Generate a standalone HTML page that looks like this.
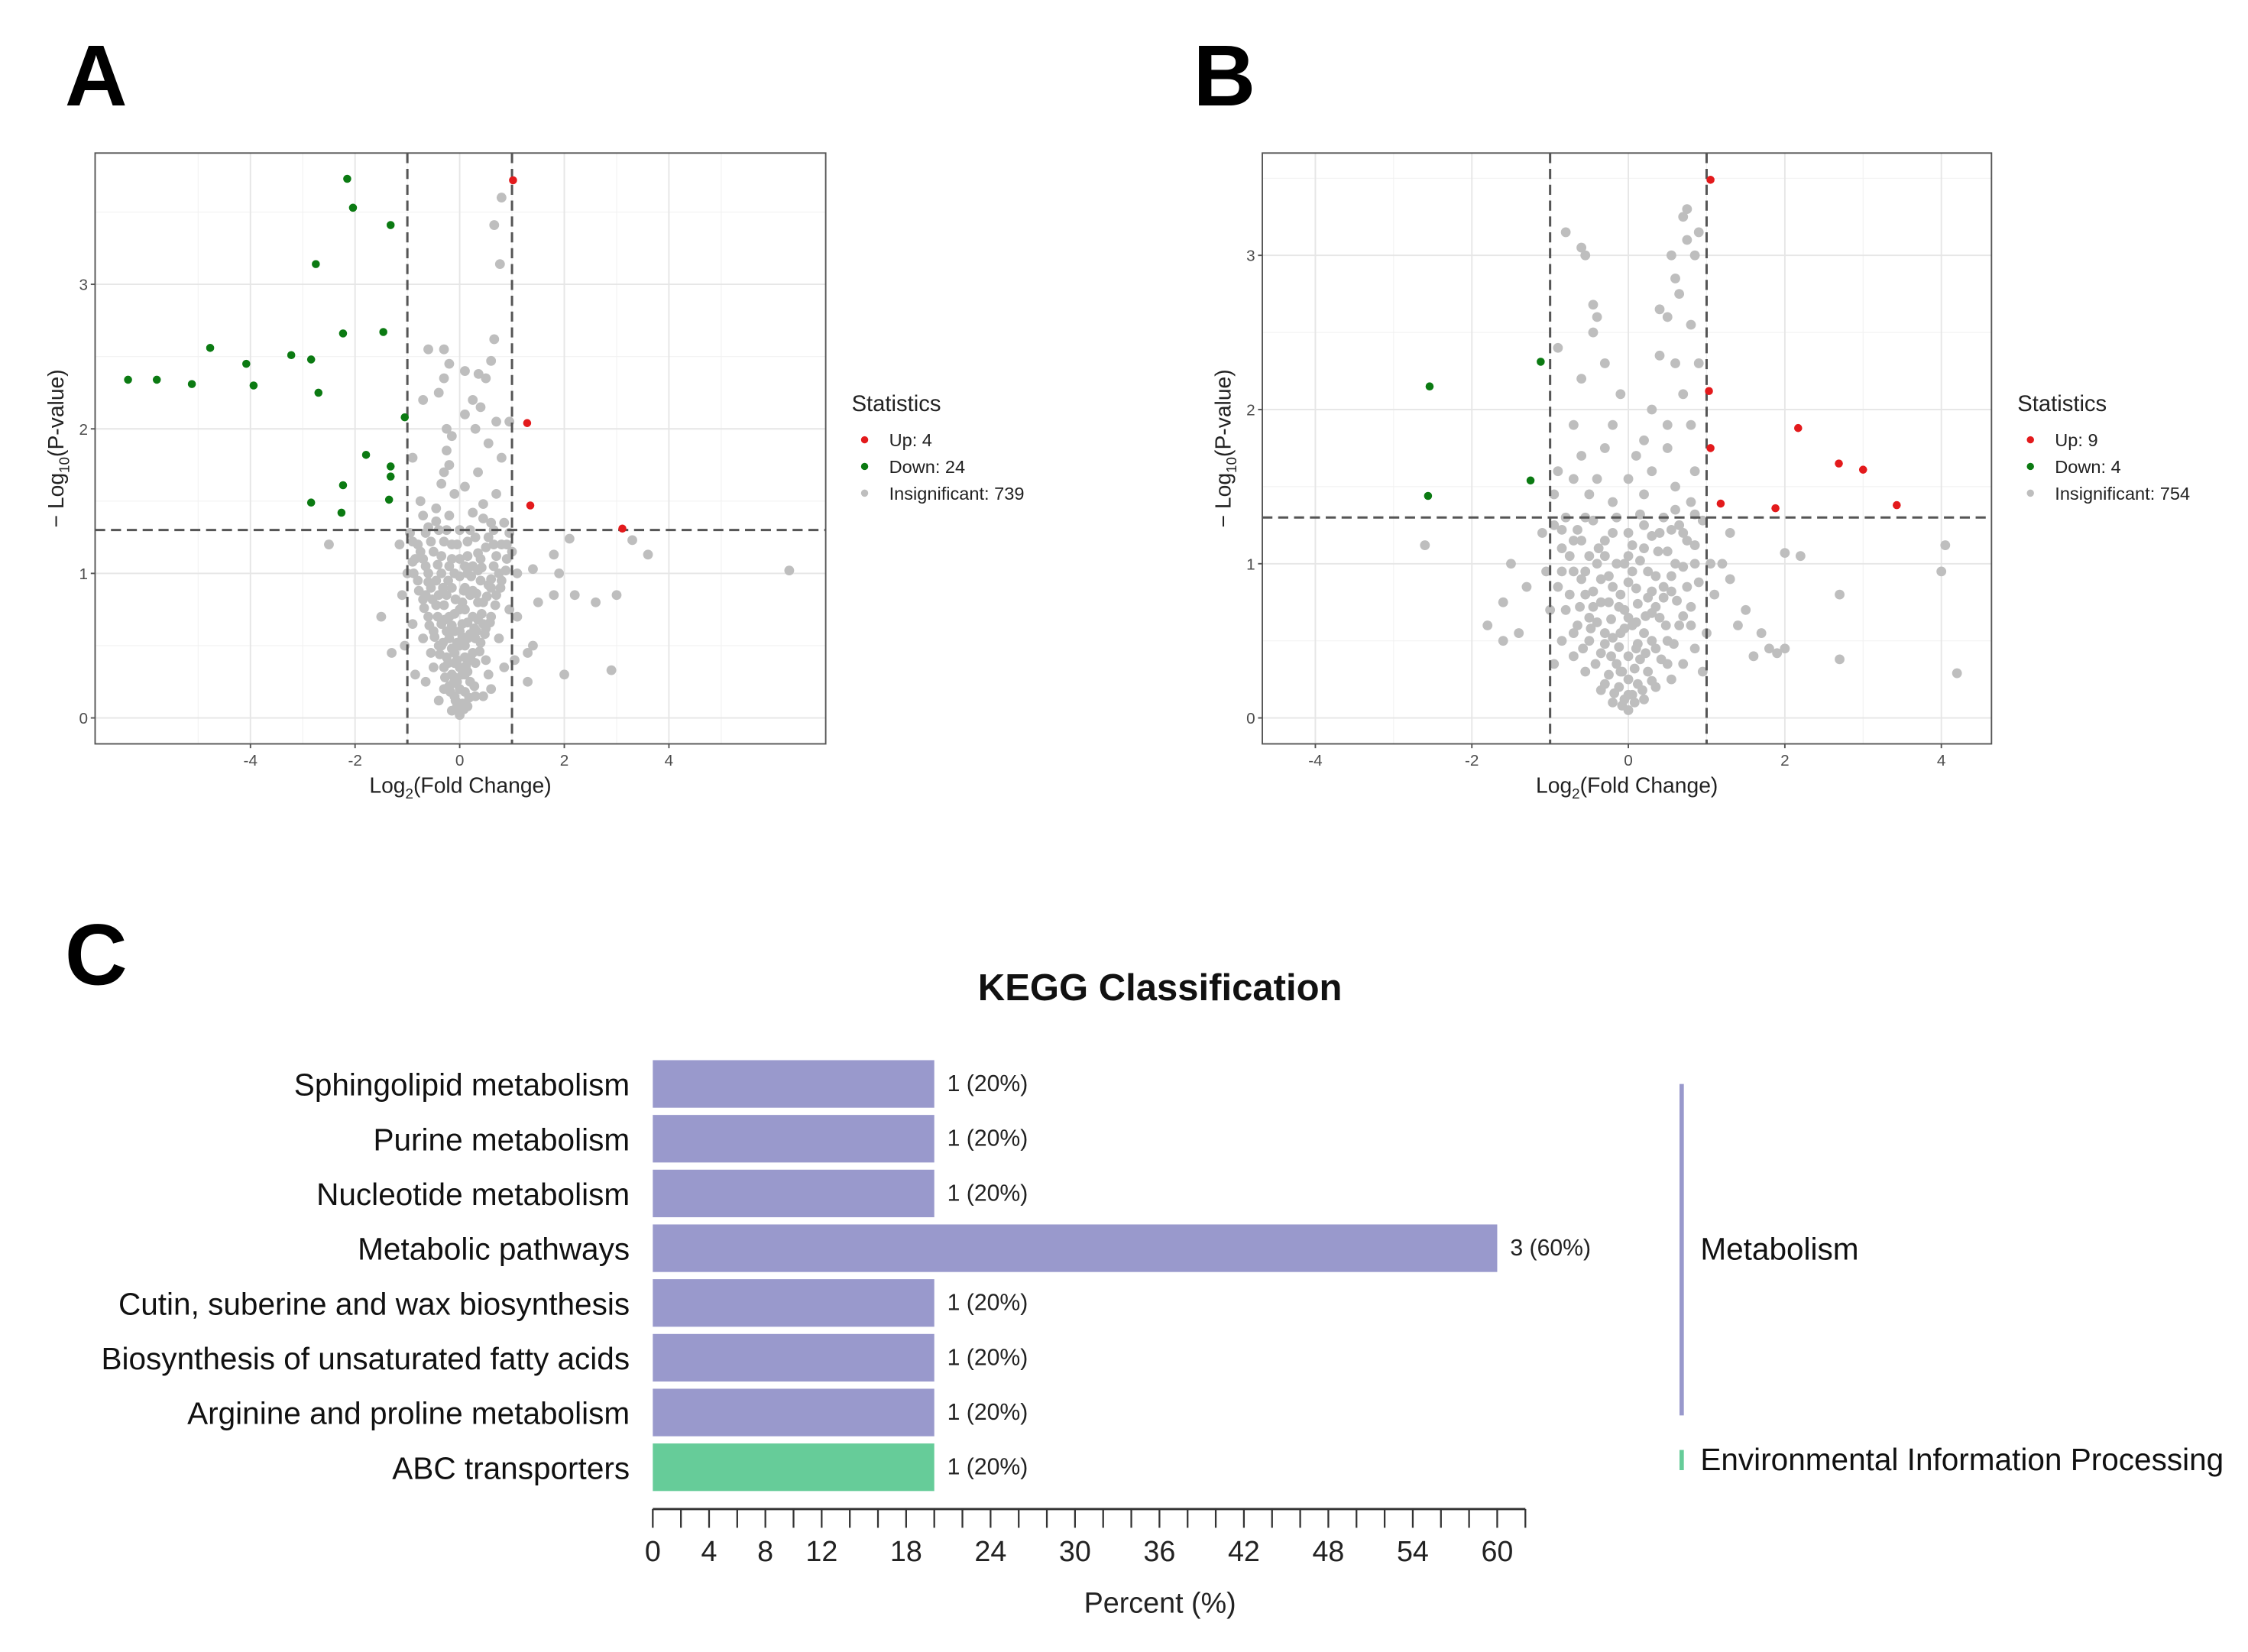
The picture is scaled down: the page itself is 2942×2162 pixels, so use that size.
<!DOCTYPE html>
<html><head><meta charset="utf-8"><style>
html,body{margin:0;padding:0;background:#fff}
svg{display:block;font-family:"Liberation Sans",sans-serif}
</style></head><body>
<svg id="fig" width="2942" height="2162" viewBox="0 0 1560 1146" xmlns="http://www.w3.org/2000/svg">
<rect width="1560" height="1146" fill="#fff"/>
<text x="45" y="73" font-size="60" font-weight="bold">A</text>
<text x="828" y="73" font-size="60" font-weight="bold">B</text>
<text x="45" y="683" font-size="60" font-weight="bold">C</text>
<g id="pa"></g>
<g id="pb"></g>
<g id="pc"></g>
</svg>
<script>
// ---- Panel A data ----
const aUpX=[1.02,1.29,1.35,3.11];
const aUpY=[3.72,2.04,1.47,1.31];
const aDownX=[-2.15,-2.04,-1.32,-2.75,-2.23,-1.46,-4.77,-3.22,-4.08,-2.84,-6.34,-5.79,-5.12,-3.94,-2.70,-1.05,-1.79,-1.32,-1.32,-2.23,-2.84,-1.35,-2.26];
const aDownY=[3.73,3.53,3.41,3.14,2.66,2.67,2.56,2.51,2.45,2.48,2.34,2.34,2.31,2.30,2.25,2.08,1.82,1.74,1.67,1.61,1.49,1.51,1.42];
const aGray=[0.66,3.41,0.8,3.6,0.77,3.14,0.66,2.62,0.36,2.38,6.3,1.02,-2.5,1.2,3.3,1.23,3.6,1.13,1.8,1.13,1.9,1.0,1.4,1.03,2.2,0.85,2.6,0.8,3.0,0.85,1.8,0.85,1.5,0.8,2.0,0.3,2.9,0.33,-1.3,0.45,-1.5,0.7,1.3,0.45,1.4,0.5,1.3,0.25,2.1,1.24,
0,0.02,-0.05,0.08,0.05,0.1,-0.1,0.15,0.1,0.18,0,0.2,-0.2,0.22,0.2,0.25,-0.15,0.3,0.15,0.32,0,0.35,-0.3,0.35,0.3,0.38,-0.25,0.42,0.25,0.45,-0.1,0.45,0.1,0.5,-0.4,0.5,0.4,0.52,-0.2,0.55,0.2,0.58,0,0.6,-0.5,0.6,0.5,0.62,-0.35,0.65,0.35,0.68,-0.6,0.7,0.6,0.7,-0.1,0.72,0.1,0.75,-0.45,0.78,0.45,0.8,-0.7,0.82,0.7,0.85,-0.25,0.85,0.25,0.88,-0.55,0.9,0.55,0.92,-0.8,0.95,0.8,0.95,0,0.98,-0.35,1.0,0.35,1.02,-0.65,1.05,0.65,1.05,-0.9,1.08,0.9,1.1,-0.15,1.1,0.15,1.12,-0.5,1.15,0.5,1.18,-0.8,1.2,0.8,1.2,-0.3,1.22,0.3,1.25,-0.95,1.28,0.95,1.28,0,1.3,-0.6,1.32,0.6,1.35,-0.2,1.4,0.25,1.42,-0.45,1.45,0.45,1.48,-0.75,1.5,0.7,1.55,-0.1,1.55,0.1,1.6,-0.35,1.62,-0.3,1.7,0.35,1.7,-0.2,1.75,0.8,1.8,-0.9,1.8,-0.25,1.85,0.55,1.9,-0.15,1.95,0.95,2.05,0.7,2.05,0.1,2.1,-0.25,2.0,0.4,2.15,-0.4,2.25,0.25,2.2,-0.3,2.35,0.5,2.35,-0.2,2.45,0.6,2.47,-0.6,2.55,-0.3,2.55,0.1,2.4,-0.7,2.2,0.3,2.0,1.1,1.0,-1.1,0.85,-1.15,1.2,1.1,0.7,-1.05,0.5,1.05,0.4,-0.85,0.3,0.85,0.35,-0.65,0.25,0.6,0.2,-0.4,0.12,0.45,0.15,-0.7,0.55,0.75,0.55,-0.9,0.65,0.95,0.75,
-0.05,0.4,0.05,0.65,-0.15,0.9,0.15,1.0,-0.05,1.2,0.05,0.8,-0.25,0.6,0.25,0.7,-0.4,0.85,0.4,0.95,-0.6,1.0,0.6,0.9,-0.75,1.15,0.75,1.0,-0.5,0.35,0.5,0.4,-0.3,0.2,0.3,0.15,-0.15,0.05,0.15,0.08,-0.55,0.45,0.55,0.3,-0.85,1.1,0.85,1.35,-0.7,1.4,0.2,1.3,-0.4,1.3,0.4,1.1,-1,1.0,1.0,1.15,-0.2,1.05,0.1,0.3,-0.1,0.28,0,0.5,0,0.75,0,1.1,-0.3,0.78,0.3,0.55,-0.2,0.7,0.2,0.85,-0.1,0.6,0.1,0.9,-0.35,0.5,0.35,0.8,-0.05,0.25,0.05,0.3,-0.45,0.95,0.45,0.65,-0.65,0.85,0.65,1.2,-0.25,1.3,0.25,1.05,-0.1,0.38,0.1,0.42,
-0.08,0.12,0.08,0.06,-0.18,0.18,0.18,0.14,-0.28,0.28,0.28,0.22,-0.12,0.24,0.12,0.36,-0.22,0.38,0.22,0.4,-0.38,0.44,0.38,0.46,-0.32,0.52,0.32,0.6,-0.48,0.56,0.48,0.58,-0.15,0.48,0.15,0.55,-0.05,0.52,0.05,0.56,-0.58,0.64,0.58,0.66,-0.42,0.7,0.42,0.72,-0.28,0.68,0.28,0.62,-0.15,0.64,0.15,0.66,-0.68,0.76,0.68,0.78,-0.52,0.82,0.52,0.84,-0.32,0.9,0.32,0.86,-0.08,0.82,0.08,0.88,-0.78,0.88,0.78,0.9,-0.6,0.94,0.6,0.96,-0.42,1.06,0.42,1.04,-0.22,0.95,0.22,0.98,-0.88,1.0,0.88,1.02,-0.7,1.1,0.7,1.12,-0.55,1.22,0.55,1.25,-0.1,1.0,0.1,1.05,-0.35,1.12,0.35,1.14,-0.9,1.22,0.9,1.2,-0.65,1.28,0.65,1.3,-0.45,1.36,0.45,1.38,-0.15,1.2,0.15,1.22];
// ---- Panel B data ----
const bUpX=[1.05,1.03,1.05,1.18,2.17,1.88,2.69,3.0,3.43];
const bUpY=[3.49,2.12,1.75,1.39,1.88,1.36,1.65,1.61,1.38];
const bDownX=[-2.54,-1.12,-1.25,-2.56];
const bDownY=[2.15,2.31,1.54,1.44];
const bGray=[-2.6,1.12,-1.8,0.6,-1.6,0.75,-1.5,1.0,-1.4,0.55,-1.3,0.85,-1.6,0.5,1.4,0.6,1.6,0.4,1.8,0.45,2.0,0.45,1.3,0.9,1.5,0.7,2.0,1.07,2.2,1.05,2.7,0.8,2.7,0.38,4.0,0.95,4.05,1.12,4.2,0.29,1.2,1.0,1.3,1.2,1.7,0.55,1.9,0.42,
-0.8,3.15,-0.6,3.05,-0.55,3.0,-0.45,2.68,-0.4,2.6,-0.45,2.5,-0.9,2.4,-0.3,2.3,0.4,2.65,0.5,2.6,0.55,3.0,0.7,3.25,0.75,3.1,0.85,3.0,0.6,2.85,0.65,2.75,0.8,2.55,0.9,2.3,0.6,2.3,0.4,2.35,0.7,2.1,0.5,1.9,0.8,1.9,0.3,2.0,-0.2,1.9,-0.6,2.2,-0.7,1.9,0.9,3.15,0.75,3.3,0.2,1.8,-0.1,2.1,
-0.9,1.6,-0.6,1.7,-0.3,1.75,0.1,1.7,0.5,1.75,0.85,1.6,-0.7,1.55,-0.4,1.55,0,1.55,0.3,1.6,0.6,1.5,-0.95,1.45,-0.5,1.45,0.2,1.45,0.8,1.4,-0.2,1.4,
0,0.05,-0.05,0.12,0.05,0.15,-0.12,0.2,0.12,0.22,0,0.25,-0.25,0.28,0.25,0.3,-0.15,0.35,0.15,0.38,0,0.4,-0.35,0.42,0.35,0.45,-0.5,0.5,0.5,0.5,-0.2,0.52,0.2,0.55,-0.65,0.6,0.65,0.6,-0.4,0.62,0.4,0.65,0,0.65,-0.8,0.7,0.8,0.72,-0.25,0.75,0.25,0.78,-0.55,0.8,0.55,0.82,-0.9,0.85,0.9,0.88,0,0.88,-0.35,0.9,0.35,0.92,-0.7,0.95,0.7,0.98,-0.15,1.0,0.15,1.02,-0.5,1.05,0.5,1.08,-0.85,1.1,0.85,1.12,-0.3,1.15,0.3,1.18,0,1.2,-0.65,1.22,0.65,1.25,-0.95,1.25,0.95,1.28,-0.45,1.28,0.45,1.3,-0.15,1.3,0.15,1.32,
-0.1,0.3,0.1,0.45,-0.3,0.55,0.3,0.68,-0.45,0.72,0.45,0.85,-0.6,0.9,0.6,1.0,-0.75,1.05,0.75,1.15,-0.05,0.7,0.05,0.95,-0.2,0.85,0.2,1.1,-0.4,1.0,0.4,1.2,-0.6,1.15,0.6,1.35,-0.8,1.3,0.8,0.6,-0.85,0.5,0.85,0.45,-0.7,0.4,0.7,0.35,-0.55,0.3,0.55,0.25,-0.35,0.18,0.35,0.2,-0.2,0.1,0.2,0.12,-1.05,0.95,1.05,1.0,-1.0,0.7,1.0,0.55,-1.1,1.2,1.1,0.8,-0.95,0.35,0.95,0.3,-0.1,0.55,0.1,0.62,-0.3,1.05,0.3,0.82,-0.5,0.65,0.5,0.35,0,1.05,0,0.15,
-0.08,0.08,0.08,0.1,-0.18,0.16,0.18,0.18,-0.3,0.22,0.3,0.24,-0.08,0.3,0.08,0.32,-0.22,0.4,0.22,0.42,-0.42,0.35,0.42,0.38,-0.12,0.46,0.12,0.48,-0.3,0.48,0.3,0.5,-0.58,0.45,0.58,0.48,-0.05,0.58,0.05,0.6,-0.22,0.64,0.22,0.66,-0.48,0.58,0.48,0.6,-0.7,0.55,0.7,0.66,-0.12,0.72,0.12,0.74,-0.35,0.75,0.35,0.72,-0.62,0.72,0.62,0.76,-0.1,0.8,0.1,0.84,-0.45,0.82,0.45,0.78,-0.75,0.8,0.75,0.85,-0.25,0.92,0.25,0.95,-0.55,0.95,0.55,0.92,-0.85,0.95,0.85,1.0,-0.05,1.0,0.05,1.12,-0.38,1.1,0.38,1.08,-0.7,1.15,0.7,1.2,-0.2,1.2,0.2,1.25,-0.55,1.3,0.55,1.22,-0.85,1.22,0.85,1.32];
// ---- Panel C data ----
const cCats=["Sphingolipid metabolism","Purine metabolism","Nucleotide metabolism","Metabolic pathways","Cutin, suberine and wax biosynthesis","Biosynthesis of unsaturated fatty acids","Arginine and proline metabolism","ABC transporters"];
const cPct=[20,20,20,60,20,20,20,20];
const cCount=[1,1,1,3,1,1,1,1];
const cGroup=["Metabolism","Metabolism","Metabolism","Metabolism","Metabolism","Metabolism","Metabolism","Environmental Information Processing"];
const cGroups=["Metabolism","Environmental Information Processing"];
const cTickLabels=[0,4,8,12,18,24,30,36,42,48,54,60];

const NS="http://www.w3.org/2000/svg";
function mk(parent,tag,attrs,text){const e=document.createElementNS(NS,tag);for(const k in attrs)e.setAttribute(k,attrs[k]);if(text!==undefined)e.textContent=text;parent.appendChild(e);return e;}

function volcano(g,cfg){
  const X=v=>cfg.x0+v*cfg.kx, Y=v=>cfg.y0-v*cfg.ky;
  for(const t of cfg.yMinor){mk(g,'line',{x1:cfg.L,x2:cfg.R,y1:Y(t),y2:Y(t),stroke:'#f2f2f2','stroke-width':0.6});}
  for(const t of cfg.xMinor){mk(g,'line',{x1:X(t),x2:X(t),y1:cfg.T,y2:cfg.B,stroke:'#f2f2f2','stroke-width':0.6});}
  for(const t of cfg.yt){mk(g,'line',{x1:cfg.L,x2:cfg.R,y1:Y(t),y2:Y(t),stroke:'#e6e6e6','stroke-width':1});}
  for(const t of cfg.xt){mk(g,'line',{x1:X(t),x2:X(t),y1:cfg.T,y2:cfg.B,stroke:'#e6e6e6','stroke-width':1});}
  for(let i=0;i<cfg.gray.length;i+=2){
    const c=mk(g,'circle',{cx:X(cfg.gray[i]),cy:Y(cfg.gray[i+1]),r:3.4,fill:'#bebebe'});
    
    
  }
  for(const v of [-1,1]){const l=mk(g,'line',{x1:X(v),x2:X(v),y1:cfg.T,y2:cfg.B,stroke:'#555','stroke-width':1.6,'stroke-dasharray':'7,4'});}
  const hl=mk(g,'line',{x1:cfg.L,x2:cfg.R,y1:Y(1.3),y2:Y(1.3),stroke:'#555','stroke-width':1.6,'stroke-dasharray':'7,4'});
  
  
  for(let i=0;i<cfg.downX.length;i++){
    const c=mk(g,'circle',{cx:X(cfg.downX[i]),cy:Y(cfg.downY[i]),r:2.8,fill:'#0b7a12'});
    
    
  }
  for(let i=0;i<cfg.upX.length;i++){
    const c=mk(g,'circle',{cx:X(cfg.upX[i]),cy:Y(cfg.upY[i]),r:2.8,fill:'#e31a1c'});
    
    
  }
  mk(g,'rect',{x:cfg.L,y:cfg.T,width:cfg.R-cfg.L,height:cfg.B-cfg.T,fill:'none',stroke:'#555','stroke-width':1});
  for(const t of cfg.xt){mk(g,'line',{x1:X(t),x2:X(t),y1:cfg.B,y2:cfg.B+3,stroke:'#555'});
    const tx=mk(g,'text',{x:X(t),y:cfg.B+15,'font-size':11,fill:'#4d4d4d','text-anchor':'middle'},String(t));
    
    }
  for(const t of cfg.yt){mk(g,'line',{x1:cfg.L-3,x2:cfg.L,y1:Y(t),y2:Y(t),stroke:'#555'});
    const ty=mk(g,'text',{x:cfg.L-5,y:Y(t)+4,'font-size':11,fill:'#4d4d4d','text-anchor':'end'},String(t));
    
    }
  const xt=mk(g,'text',{x:(cfg.L+cfg.R)/2,y:cfg.B+34,'font-size':15,fill:'#222','text-anchor':'middle'});
  
  
  xt.innerHTML='Log<tspan font-size="10" dy="4">2</tspan><tspan dy="-4">(Fold Change)</tspan>';
  const cy=(cfg.T+cfg.B)/2;
  const yt=mk(g,'text',{x:0,y:0,'font-size':15,fill:'#222','text-anchor':'middle',transform:`translate(${cfg.L-22},${cy}) rotate(-90)`});
  
  
  yt.innerHTML='− Log<tspan font-size="10" dy="4">10</tspan><tspan dy="-4">(P-value)</tspan>';
  const lx=cfg.legX;
  const lt=mk(g,'text',{x:lx,y:285,'font-size':15.5,fill:'#222'},'Statistics');
  
  
  const ents=[['#e31a1c','Up: '+cfg.upX.length],['#0b7a12','Down: '+cfg.nDown],['#bebebe','Insignificant: '+cfg.nIns]];
  ents.forEach((e,i)=>{const yy=305+i*18.5;
    mk(g,'circle',{cx:lx+9,cy:yy,r:2.5,fill:e[0]});
    const t=mk(g,'text',{x:lx+26,y:yy+4.5,'font-size':12.5,fill:'#222'},e[1]);
    
    });
}
volcano(document.getElementById('pa'),{L:66,R:573,T:106,B:516,x0:319,kx:36.3,y0:498,ky:100.3,xt:[-4,-2,0,2,4],yt:[0,1,2,3],xMinor:[-5,-3,-1,1,3,5],yMinor:[0.5,1.5,2.5,3.5],gray:aGray,upX:aUpX,upY:aUpY,downX:aDownX,downY:aDownY,nDown:24,nIns:739,legX:591});
volcano(document.getElementById('pb'),{L:876,R:1382,T:106,B:516,x0:1130,kx:54.3,y0:498,ky:107,xt:[-4,-2,0,2,4],yt:[0,1,2,3],xMinor:[-3,-1,1,3],yMinor:[0.5,1.5,2.5,3.5],gray:bGray,upX:bUpX,upY:bUpY,downX:bDownX,downY:bDownY,nDown:4,nIns:754,legX:1400});

// ---- Panel C ----
(function(){
  const g=document.getElementById('pc');
  const x0=453,kx=(1039-453)/60,rowY=i=>752+i*38,bh=33;
  const X=v=>x0+v*kx;
  const colors={"Metabolism":"#9999cc","Environmental Information Processing":"#66cc99"};
  const title=mk(g,'text',{x:805,y:694,'font-size':26,'font-weight':'bold','text-anchor':'middle',fill:'#111'},'KEGG Classification');
  
  
  cCats.forEach((c,i)=>{
    const cy=rowY(i);
    const r=mk(g,'rect',{x:X(0),y:cy-bh/2,width:X(cPct[i])-X(0),height:bh,fill:colors[cGroup[i]]});
    
    
    const l=mk(g,'text',{x:437,y:cy+8,'font-size':21.5,'text-anchor':'end',fill:'#111'},c);
    
    
    const v=mk(g,'text',{x:X(cPct[i])+9,y:cy+5,'font-size':16,fill:'#222'},cCount[i]+' ('+cPct[i]+'%)');
    
    
  });
  mk(g,'line',{x1:X(0),x2:X(62),y1:1047,y2:1047,stroke:'#333','stroke-width':1.5});
  for(let t=0;t<=62;t+=2){mk(g,'line',{x1:X(t),x2:X(t),y1:1047,y2:1060,stroke:'#333','stroke-width':1.2});}
  cTickLabels.forEach(t=>{const e=mk(g,'text',{x:X(t),y:1083,'font-size':20,'text-anchor':'middle',fill:'#222'},String(t));
    
    });
  const xt=mk(g,'text',{x:805,y:1119,'font-size':20,'text-anchor':'middle',fill:'#222'},'Percent (%)');
  
  
  cGroups.forEach(gr=>{
    const idx=cGroup.map((v,i)=>v===gr?i:-1).filter(i=>i>=0);
    const y1=rowY(idx[0]), y2=rowY(idx[idx.length-1]);
    const top=idx.length>1?y1:y2-12, bot=idx.length>1?y2+2:y2+2;
    const ln=mk(g,'line',{x1:1167,x2:1167,y1:top,y2:bot,stroke:colors[gr],'stroke-width':3});
    
    
    const t=mk(g,'text',{x:1180,y:(top+bot)/2+7,'font-size':21.5,fill:'#111'},gr);
    
    
  });
})();
</script>
</body></html>
